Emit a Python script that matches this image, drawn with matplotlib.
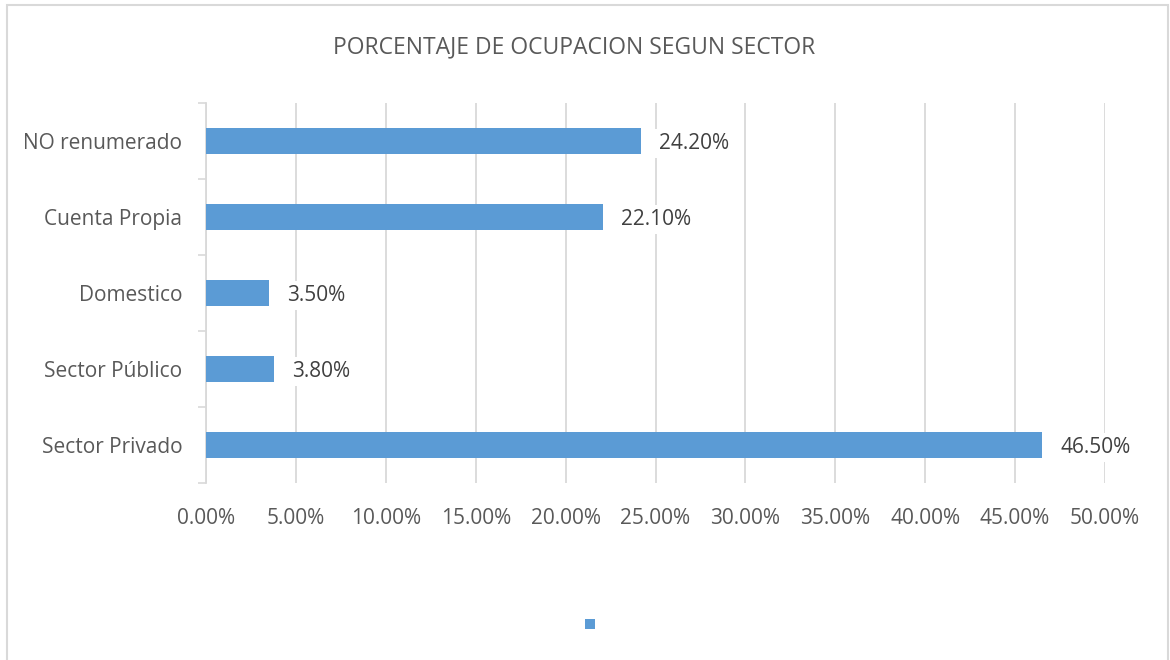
import matplotlib.pyplot as plt
from matplotlib.patches import Rectangle
from matplotlib.ticker import FuncFormatter, FixedLocator

# data
sectores = ["Sector Privado", "Sector Público", "Domestico", "Cuenta Propia", "NO renumerado"]
porcentajes = [46.5, 3.8, 3.5, 22.1, 24.2]
xticks = [0, 5, 10, 15, 20, 25, 30, 35, 40, 45, 50]

plt.rcParams['font.family'] = ['Open Sans', 'DejaVu Sans']
azul = '#5B9BD5'
gris = '#595959'
linea = '#D9D9D9'

fig = plt.figure(figsize=(11.7, 6.6), dpi=100)
ax = fig.add_axes([206 / 1170, 1 - 483 / 660, 899 / 1170, 380 / 660])

pos = list(range(len(sectores)))
ax.barh(pos, porcentajes, height=0.34, color=azul, zorder=3)

for y, v in zip(pos, porcentajes):
    ax.text(v + 1.0, y, f"{v:.2f}%", va='center_baseline', ha='left', fontsize=15,
            color='#404040', zorder=4,
            bbox=dict(facecolor='white', edgecolor='none', pad=3))

ax.set_xlim(0, 50)
ax.set_ylim(-0.5, len(sectores) - 0.5)
ax.set_xticks(xticks)
ax.xaxis.set_major_formatter(FuncFormatter(lambda v, p: f"{v:.2f}%"))
ax.set_yticks(pos)
ax.set_yticklabels(sectores)
ax.yaxis.set_minor_locator(FixedLocator([p - 0.5 for p in pos] + [len(sectores) - 0.5]))

ax.tick_params(axis='x', length=0, labelsize=15, labelcolor=gris, pad=18)
ax.tick_params(axis='y', which='major', length=0, labelsize=15, labelcolor=gris, pad=17)
ax.tick_params(axis='y', which='minor', length=6, width=1.2, color=linea)

ax.grid(axis='x', color=linea, linewidth=1.3, zorder=0)
for s in ['top', 'right', 'bottom']:
    ax.spines[s].set_visible(False)
ax.spines['left'].set_color(linea)
ax.spines['left'].set_linewidth(1.3)

fig.text(574 / 1170, 1 - 47 / 660, "PORCENTAJE DE OCUPACION SEGUN SECTOR", ha='center', va='center',
         fontsize=16.5, color=gris)

# legend marker without text
fig.patches.append(Rectangle((585 / 1170, 1 - 629 / 660), 10 / 1170, 10 / 660,
                             transform=fig.transFigure, facecolor=azul, edgecolor='none'))

# outer frame
fig.patches.append(Rectangle((7 / 1170, -0.01), 1161 / 1170, 1 - 5 / 660 + 0.01,
                             transform=fig.transFigure, facecolor='none',
                             edgecolor=linea, linewidth=1.5))

fig.savefig("out.png", dpi=100)
